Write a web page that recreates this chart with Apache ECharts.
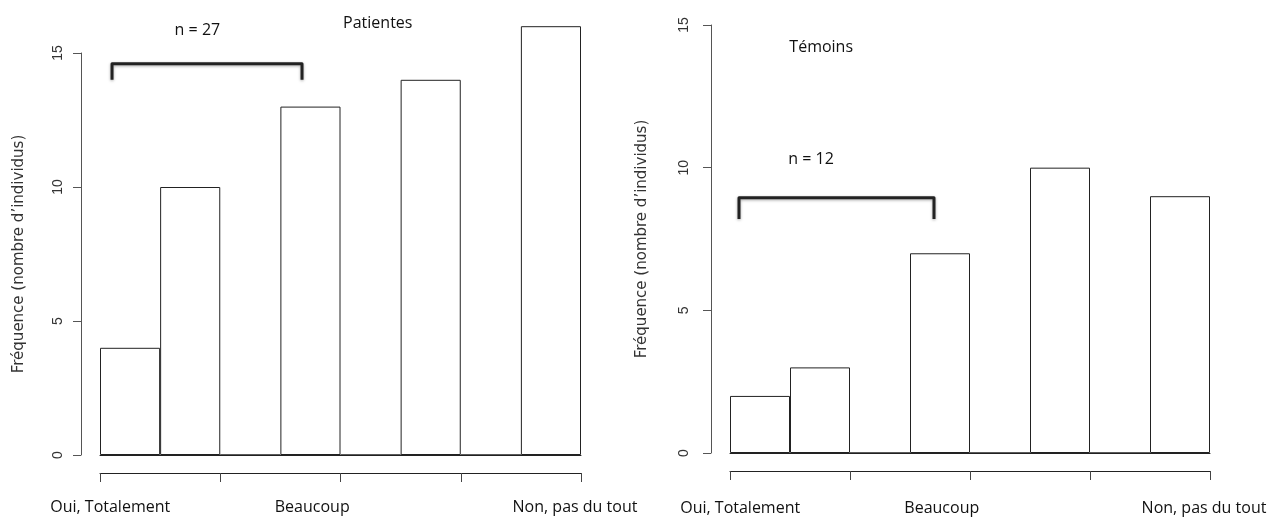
<!DOCTYPE html>
<html lang="fr">
<head>
    <meta charset="UTF-8">
    <title>Patientes / Témoins</title>
    <style>
        html, body { margin: 0; padding: 0; background: #fff; }
    </style>
</head>
<body>
    <div id="main" style="width: 1277px; height: 521px"></div>
    <script src="https://cdn.jsdelivr.net/npm/echarts@6/dist/echarts.min.js"></script>
    <script type="text/javascript">
        // bins of the histogram (8 classes)
        var bins = ['1', '2', '3', '4', '5', '6', '7', '8'];
        var patientes = [4, 10, 0, 13, 0, 14, 0, 16];
        var temoins = [2, 3, 0, 7, 0, 10, 0, 9];
        var yTicks = [0, 5, 10, 15];
        var xLabels = ['Oui, Totalement', 'Beaucoup', 'Non, pas du tout'];
        var xLabelPos = [0.17, 3.53, 7.9];
        var yTitle = 'Fréquence (nombre d’individus)';

        // annotations in data units: [text, x, y]
        var notesLeft = [['n = 27', 1.62, 15.85], ['Patientes', 4.62, 16.1]];
        var notesRight = [['Témoins', 1.52, 14.2], ['n = 12', 1.35, 10.3]];
        var bracketLeft = [[0.2, 14.0], [0.2, 14.6], [3.36, 14.6], [3.36, 14.0]];
        var bracketRight = [[0.15, 8.2], [0.15, 8.95], [3.4, 8.95], [3.4, 8.2]];

        var myChart = echarts.init(document.getElementById('main'));

        function yAxisFor(gridIndex, offset, gap, margin) {
            return {
                type: 'value',
                gridIndex: gridIndex,
                min: yTicks[0],
                max: yTicks[yTicks.length - 1],
                interval: 5,
                offset: offset,
                axisLine: { show: true, onZero: false, lineStyle: { color: '#555', width: 1 } },
                axisTick: { show: true, length: 8, lineStyle: { color: '#555' } },
                axisLabel: { rotate: 90, margin: margin, fontSize: 14, color: '#333', fontFamily: 'Liberation Sans' },
                splitLine: { show: false },
                name: yTitle,
                nameLocation: 'middle',
                nameGap: gap,
                nameMoveOverlap: false,
                nameTextStyle: { fontSize: 15, color: '#333', fontFamily: 'DejaVu Sans' }
            };
        }

        function binAxis(gridIndex) {
            return {
                type: 'category',
                gridIndex: gridIndex,
                data: bins,
                axisLine: { show: true, lineStyle: { color: '#222', width: 1 } },
                axisTick: { show: false },
                axisLabel: { show: false }
            };
        }

        function tickAxis(gridIndex) {
            return {
                type: 'value',
                gridIndex: gridIndex,
                min: 0,
                max: 8,
                interval: 2,
                position: 'bottom',
                offset: 18,
                axisLine: { show: true, onZero: false, lineStyle: { color: '#222', width: 1 } },
                axisTick: { show: true, length: 9, lineStyle: { color: '#444' } },
                axisLabel: { show: false },
                splitLine: { show: false }
            };
        }

        function barSeries(idx, data) {
            return {
                type: 'bar',
                xAxisIndex: idx * 2,
                yAxisIndex: idx,
                data: data,
                barCategoryGap: '0%',
                clip: false,
                silent: true,
                itemStyle: { color: '#fff', borderColor: '#222', borderWidth: 1 }
            };
        }

        var option = {
            animation: false,
            grid: [
                { left: 100, width: 481, top: 53, height: 402 },
                { left: 730, width: 480, top: 25, height: 428 }
            ],
            xAxis: [binAxis(0), tickAxis(0), binAxis(1), tickAxis(1)],
            yAxis: [yAxisFor(0, 19, 54, 16), yAxisFor(1, 19, 61, 20)],
            series: [barSeries(0, patientes), barSeries(1, temoins)]
        };
        myChart.setOption(option);

        // texts and brackets placed through the axes
        function px(g, p) {
            return myChart.convertToPixel({ xAxisIndex: g * 2 + 1, yAxisIndex: g }, p);
        }
        var textStyle = { fontFamily: 'Open Sans', fontSize: 16, fill: '#111', align: 'center', verticalAlign: 'middle' };
        var elements = [];
        [[notesLeft, bracketLeft], [notesRight, bracketRight]].forEach(function (set, g) {
            set[0].forEach(function (n) {
                var p = px(g, [n[1], n[2]]);
                elements.push({ type: 'text', x: p[0], y: p[1], style: Object.assign({ text: n[0] }, textStyle) });
            });
            elements.push({
                type: 'polyline',
                shape: { points: set[1].map(function (q) { return px(g, q); }) },
                style: {
                    stroke: '#222', lineWidth: 3, fill: null, lineJoin: 'round', lineCap: 'butt',
                    shadowBlur: 3, shadowColor: 'rgba(0,0,0,0.35)', shadowOffsetY: 1
                }
            });
            xLabels.forEach(function (t, i) {
                var p = px(g, [xLabelPos[i], -1.95]);
                elements.push({ type: 'text', x: p[0], y: p[1], style: Object.assign({ text: t }, textStyle) });
            });
        });
        myChart.setOption({ graphic: elements });
    </script>
</body>
</html>
